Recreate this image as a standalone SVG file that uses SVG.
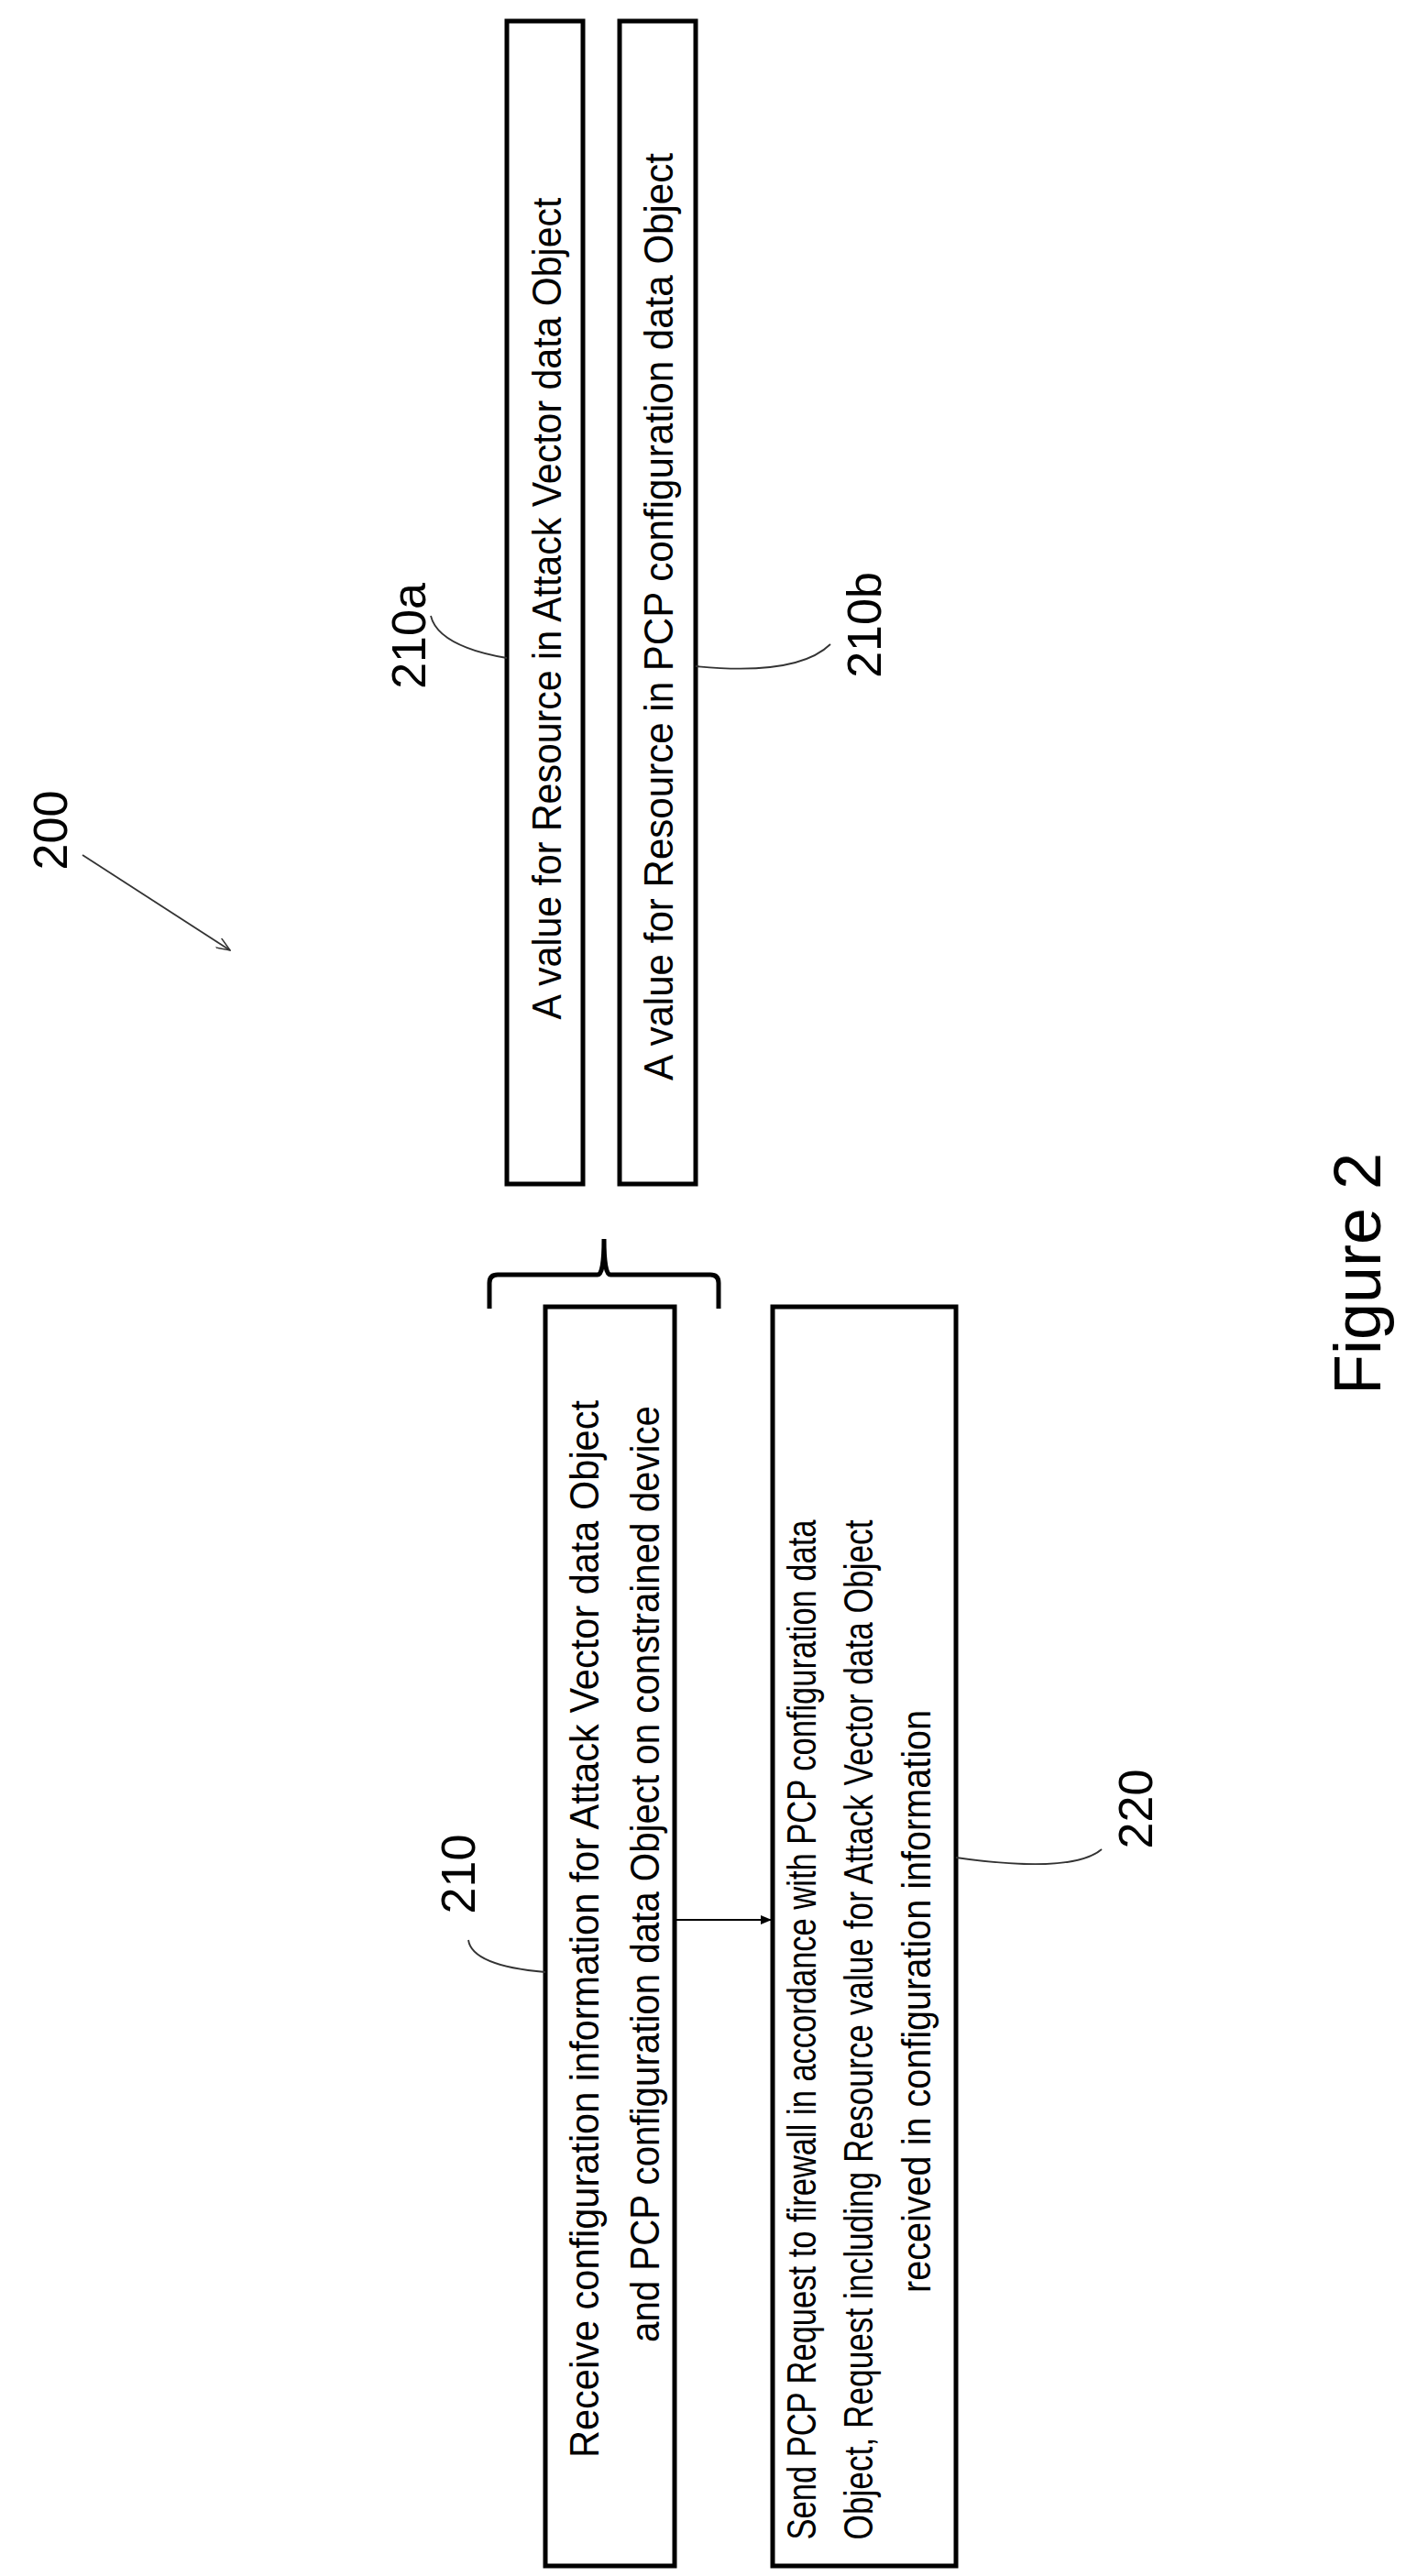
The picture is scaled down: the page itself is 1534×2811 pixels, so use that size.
<svg xmlns="http://www.w3.org/2000/svg" width="1534" height="2811" viewBox="0 0 1534 2811">
<style>
.box{fill:#fff;stroke:#000;stroke-width:5}
.t{font-family:"Liberation Sans",Arial,sans-serif;font-size:44px;fill:#000;text-anchor:middle}
.lbl{font-family:"Liberation Sans",Arial,sans-serif;font-size:52px;fill:#000;text-anchor:middle}
.lead{fill:none;stroke:#333;stroke-width:1.8}
</style>
<defs>
<marker id="ah" markerWidth="12" markerHeight="10" refX="11" refY="5" orient="auto" markerUnits="userSpaceOnUse"><path d="M0,0 L12,5 L0,10 Z" fill="#000"/></marker>
<marker id="ah2" markerWidth="16" markerHeight="12" refX="15" refY="6" orient="auto" markerUnits="userSpaceOnUse"><path d="M0,0 L15,6 L0,12" fill="none" stroke="#333" stroke-width="1.5"/></marker>
</defs>
<rect width="1534" height="2811" fill="#fff"/>
<g id="n210a">
<rect class="box" x="553" y="23" width="83" height="1269"/>
<text class="t" transform="translate(612,664) rotate(-90)" textLength="897" lengthAdjust="spacingAndGlyphs">A value for Resource in Attack Vector data Object</text>
</g>
<g id="n210b">
<rect class="box" x="676" y="23" width="83" height="1269"/>
<text class="t" transform="translate(734,673) rotate(-90)" textLength="1012" lengthAdjust="spacingAndGlyphs">A value for Resource in PCP configuration data Object</text>
</g>
<g id="brace">
<path d="M534,1428 L534,1400 Q534,1391 543,1391 L652,1391 Q659,1391 659,1352 Q659,1391 666,1391 L775,1391 Q784,1391 784,1400 L784,1428" fill="none" stroke="#000" stroke-width="5"/>
</g>
<g id="n210">
<rect class="box" x="595" y="1426" width="141" height="1374"/>
<text class="t" transform="translate(653,2105) rotate(-90)" textLength="1154" lengthAdjust="spacingAndGlyphs">Receive configuration information for Attack Vector data Object</text>
<text class="t" transform="translate(719,2045) rotate(-90)" textLength="1022" lengthAdjust="spacingAndGlyphs">and PCP configuration data Object on constrained device</text>
</g>
<g id="n220">
<rect class="box" x="843" y="1426" width="200" height="1374"/>
<text class="t" transform="translate(890,2215) rotate(-90)" textLength="1113" lengthAdjust="spacingAndGlyphs">Send PCP Request to firewall in accordance with PCP configuration data</text>
<text class="t" transform="translate(952,2215) rotate(-90)" textLength="1113" lengthAdjust="spacingAndGlyphs">Object, Request including Resource value for Attack Vector data Object</text>
<text class="t" transform="translate(1015,2184) rotate(-90)" textLength="636" lengthAdjust="spacingAndGlyphs">received in configuration information</text>
</g>
<g id="labels">
<text class="lbl" transform="translate(73,906) rotate(-90)">200</text>
<text class="lbl" transform="translate(464,694) rotate(-90)">210a</text>
<text class="lbl" transform="translate(961,682) rotate(-90)">210b</text>
<text class="lbl" transform="translate(518,2045) rotate(-90)">210</text>
<text class="lbl" transform="translate(1257,1974) rotate(-90)">220</text>
<text style="font-family:'Liberation Sans',Arial,sans-serif;font-size:72px;text-anchor:middle" transform="translate(1506,1390) rotate(-90)">Figure 2</text>
</g>
<g id="connectors">
<line x1="738" y1="2095" x2="841" y2="2095" stroke="#000" stroke-width="2" marker-end="url(#ah)"/>
<path class="lead" d="M90,933 Q170,985 251,1037" marker-end="url(#ah2)"/>
<path class="lead" d="M470,672 Q478,705 553,718"/>
<path class="lead" d="M759,727 Q870,738 906,703"/>
<path class="lead" d="M511,2117 Q515,2145 595,2152"/>
<path class="lead" d="M1043,2027 Q1170,2045 1202,2018"/>
</g>
</svg>
